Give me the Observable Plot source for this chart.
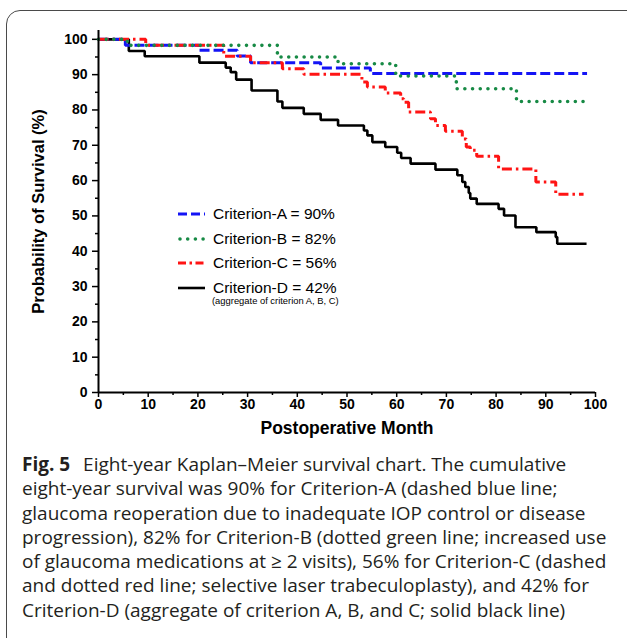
<!DOCTYPE html>
<html><head><meta charset="utf-8">
<script src="https://cdn.jsdelivr.net/npm/d3@7"></script>
<script src="https://cdn.jsdelivr.net/npm/@observablehq/plot@0.6"></script>
<style>
html,body{margin:0;padding:0;background:#fff;width:627px;height:638px;overflow:hidden;position:relative;}
#box{position:absolute;left:6px;top:10px;width:680px;height:720px;border:1.5px solid #4a4a4a;border-radius:14px;box-sizing:border-box;}
#chart{position:absolute;left:0;top:0;}
#legend{position:absolute;left:178px;top:202px;font-family:"Liberation Sans",Arial,sans-serif;font-size:15.5px;color:#000;}
#legend .row{display:flex;align-items:center;height:24.6px;}
#legend svg{margin-right:8px;}
#legend .sub{font-size:9.4px;margin-left:34px;margin-top:-5px;}
#caption{position:absolute;left:22px;top:452px;font-family:"Open Sans",sans-serif;font-size:19px;line-height:24.3px;white-space:nowrap;color:#231f20;}
#caption b{font-weight:bold;margin-right:8px;}
</style>
</head><body>
<div id="box"></div>
<div id="chart"></div>
<div id="legend"></div>
<div id="caption"></div>
<script>
// ---- data ----
const seriesNames = ["Criterion-A", "Criterion-B", "Criterion-C", "Criterion-D"];
const legendLabels = ["Criterion-A = 90%", "Criterion-B = 82%", "Criterion-C = 56%", "Criterion-D = 42%"];
const legendNote = "(aggregate of criterion A, B, C)";

const monthsA = [0, 5.4, 20.2, 27.9, 30.6, 44.7, 54.7, 98.3];
const survA   = [100, 98.3, 96.9, 95.3, 93.4, 91.9, 90.3, 90.3];

const monthsB = [0, 5.8, 36.0, 48.2, 59.8, 72.0, 84.1, 97.6];
const survB   = [100, 98.3, 95.0, 93.1, 89.6, 86.0, 82.4, 82.4];

const monthsC = [0, 9.5, 25.2, 30.6, 37.0, 41.3, 53.0, 54.1, 57.7, 60.8, 61.4, 62.4, 66.8, 67.8, 69.8, 73.2, 74.0, 74.8, 76.1, 80.5, 88.0, 92.0, 97.6];
const survC   = [100, 98.3, 95.2, 93.4, 91.7, 90.1, 87.9, 86.5, 84.8, 83.2, 82.2, 79.4, 77.5, 75.6, 74.0, 71.8, 69.5, 68.6, 66.9, 63.3, 59.6, 56.1, 56.1];

const monthsD = [0, 6.1, 9.3, 20.3, 25.6, 26.6, 27.7, 30.8, 36.0, 37.0, 41.3, 44.7, 48.2, 53.4, 54.1, 55.1, 57.7, 60.1, 60.9, 62.8, 67.8, 72.2, 73.2, 73.8, 74.5, 74.8, 76.1, 80.5, 81.6, 83.9, 88.1, 92.0, 92.3, 98.2];
const survD   = [100, 96.7, 95.2, 93.4, 92.0, 90.7, 88.6, 85.5, 82.4, 80.6, 78.9, 77.2, 75.6, 74.2, 72.8, 70.9, 69.5, 67.9, 66.4, 64.8, 63.1, 61.5, 59.6, 58.2, 56.5, 54.9, 53.4, 52.0, 50.1, 46.8, 45.4, 44.0, 42.1, 42.1];

const xTicks = [0, 10, 20, 30, 40, 50, 60, 70, 80, 90, 100];
const yTicks = [0, 10, 20, 30, 40, 50, 60, 70, 80, 90, 100];
const xMinor = [5, 15, 25, 35, 45, 55, 65, 75, 85, 95];
const yMinor = [5, 15, 25, 35, 45, 55, 65, 75, 85, 95];
const xTitle = "Postoperative Month";
const yTitle = "Probability of Survival (%)";

const captionLines = [
  "Eight-year Kaplan\u2013Meier survival chart. The cumulative",
  "eight-year survival was 90% for Criterion-A (dashed blue line;",
  "glaucoma reoperation due to inadequate IOP control or disease",
  "progression), 82% for Criterion-B (dotted green line; increased use",
  "of glaucoma medications at \u2265 2 visits), 56% for Criterion-C (dashed",
  "and dotted red line; selective laser trabeculoplasty), and 42% for",
  "Criterion-D (aggregate of criterion A, B, and C; solid black line)"
];
const captionLabel = "Fig. 5";

// ---- styles ----
const styles = {
  "Criterion-A": {stroke: "#1414f5", strokeWidth: 3, dash: "10,4", cap: "butt"},
  "Criterion-B": {stroke: "#178a45", strokeWidth: 3.6, dash: "0,7.7", cap: "round"},
  "Criterion-C": {stroke: "#ff1414", strokeWidth: 3, dash: "10,4,2.5,4", cap: "butt"},
  "Criterion-D": {stroke: "#000000", strokeWidth: 2.6, dash: null, cap: "butt"}
};

const seriesData = [[monthsA, survA], [monthsB, survB], [monthsC, survC], [monthsD, survD]];
const rows = [];
seriesNames.forEach((s, i) => {
  const [m, v] = seriesData[i];
  m.forEach((mm, j) => rows.push({series: s, month: mm, surv: v[j]}));
});

const drawOrder = ["Criterion-D", "Criterion-A", "Criterion-C", "Criterion-B"];
const lineMarks = drawOrder.map(s => {
  const st = styles[s];
  return Plot.line(rows.filter(r => r.series === s), {
    x: "month", y: "surv", curve: "step-after",
    stroke: st.stroke, strokeWidth: st.strokeWidth,
    strokeDasharray: st.dash, strokeLinecap: st.cap, strokeLinejoin: "miter"
  });
});

const font = "'Liberation Sans', Arial, Helvetica, sans-serif";
const chart = Plot.plot({
  width: 627, height: 448,
  marginLeft: 98, marginRight: 32, marginTop: 30, marginBottom: 56,
  x: {domain: [0, 100]},
  y: {domain: [0, 102.5]},
  style: {fontFamily: font, fontSize: "14px", color: "#000", background: "transparent"},
  marks: [
    Plot.axisY(yTicks, {tickSize: 6, tickPadding: 5, label: null, fontWeight: "bold", fontSize: 14, strokeWidth: 1.5}),
    Plot.axisY(yMinor, {tickSize: 3, text: null, label: null, strokeWidth: 1.5}),
    Plot.axisX(xTicks, {tickSize: 5, tickPadding: 2, label: null, fontWeight: "bold", fontSize: 14, strokeWidth: 1.5}),
    Plot.axisX(xMinor, {tickSize: 3, text: null, label: null, strokeWidth: 1.5}),
    ...lineMarks,
    Plot.ruleX([0], {strokeWidth: 2}),
    Plot.ruleY([0], {strokeWidth: 2}),
    Plot.text([xTitle], {text: d => d, frameAnchor: "bottom", dy: 41, fontSize: 17.5, fontWeight: "bold", textAnchor: "middle"}),
    Plot.text([yTitle], {text: d => d, frameAnchor: "left", dx: -60, rotate: -90, fontSize: 16.5, fontWeight: "bold", textAnchor: "middle", lineAnchor: "middle"})
  ]
});
document.getElementById("chart").appendChild(chart);

// ---- legend ----
const legend = document.getElementById("legend");
seriesNames.forEach((s, i) => {
  const st = styles[s];
  const row = document.createElement("div");
  row.className = "row";
  const dash = s === "Criterion-A" ? "9,4" : s === "Criterion-C" ? "8,3.5,2.5,3.5" : st.dash;
  row.innerHTML = `<svg width="27" height="8"><line x1="${st.cap === 'round' ? 2 : 0}" x2="27" y1="4" y2="4" stroke="${st.stroke}" stroke-width="${st.strokeWidth}" ${dash ? `stroke-dasharray="${dash}"` : ""} stroke-linecap="${st.cap}"/></svg><span>${legendLabels[i]}</span>`;
  legend.appendChild(row);
});
const note = document.createElement("div");
note.className = "sub";
note.textContent = legendNote;
legend.appendChild(note);

// ---- caption ----
const cap = document.getElementById("caption");
captionLines.forEach((t, i) => {
  const div = document.createElement("div");
  if (i === 0) {
    const b = document.createElement("b");
    b.textContent = captionLabel;
    div.appendChild(b);
    div.appendChild(document.createTextNode(" " + t));
  } else div.textContent = t;
  cap.appendChild(div);
});
</script>
</body></html>
